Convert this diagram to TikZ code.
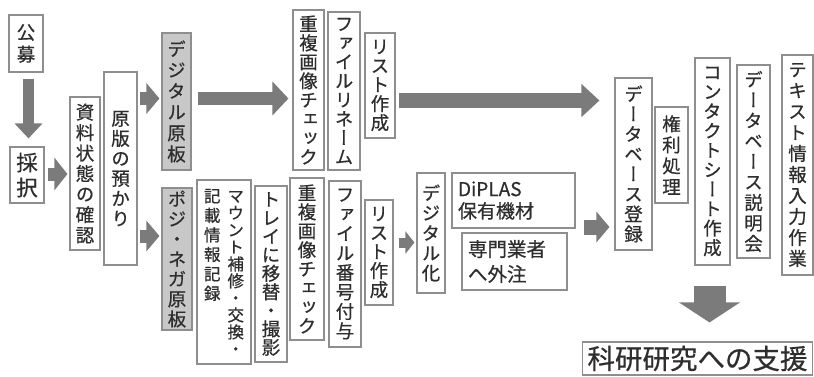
\documentclass[tikz,border=0pt]{standalone}
\usepackage{fontspec}
\usetikzlibrary{arrows.meta,calc}
\newfontfamily\jp[FakeBold=0.6]{Noto Sans CJK JP}
\newfontfamily\jpv[RawFeature={+vert},FakeBold=0.6]{Noto Sans CJK JP}
\definecolor{arrgray}{HTML}{7B7B7B}
\definecolor{linegray}{HTML}{8E8E8E}
\definecolor{fillgray}{HTML}{C8C8C8}
\definecolor{txt}{HTML}{2E2E2E}

\ExplSyntaxOn
\NewDocumentCommand\vtxt{O{20}m}{
  \vtop{\baselineskip=#1pt \lineskiplimit=-100pt \lineskip=0pt
    \tl_map_inline:nn {#2} {\hbox~to~1em{\hss ##1\hss}}}
}
\ExplSyntaxOff

\begin{document}
\begin{tikzpicture}[x=1pt,y=-1pt,
  box/.style={draw=linegray, line width=1.1pt, fill=white, inner sep=0pt, text=txt,
    font=\jpv\fontsize{18.5}{21}\selectfont},
  gbox/.style={box, fill=fillgray},
  wh/.style 2 args={minimum width=#1, minimum height=#2},
  arr/.style={draw=arrgray, line width=13pt, -{Triangle[length=13pt,width=30pt]}},
]
\useasboundingbox (0,0) rectangle (814,376);

% boxes
\node[box, wh={34}{57}] (komo) at (26,43.5) {\vtxt[22]{公募}};
\node[box, wh={34}{56}, font=\jpv\fontsize{21.5}{24}\selectfont] (saitaku) at (27,175) {\vtxt[25]{採択}};
\node[box, wh={30}{153}] (shiryo) at (85,173.5) {\vtxt[20.5]{資料状態の確認}};
\node[box, wh={33}{193}] (genban) at (120.5,168.5) {\vtxt[20]{原版の預かり}};
\node[gbox, wh={29}{137}] (digital) at (176.5,101.5) {\vtxt[21]{デジタル原板}};
\node[gbox, wh={30}{142}] (posi) at (177,259) {\vtxt[20]{ポジ・ネガ原板}};
\node[box, wh={54}{184}, font=\jpv\fontsize{16.5}{18}\selectfont] (mount) at (224,272)
  {\vtxt[19.5]{記載情報記録}\hspace{7pt}\vtxt[17]{マウント補修・交換・}};
\node[box, wh={32}{176}] (tray) at (271,274) {\vtxt[18.5]{トレイに移替・撮影}};
\node[box, wh={31}{160}] (dupA) at (308.5,90) {\vtxt[19]{重複画像チェック}};
\node[box, wh={32}{158}] (rename) at (344,91) {\vtxt[19]{ファイルリネーム}};
\node[box, wh={30}{105}] (listA) at (380,85.5) {\vtxt[19]{リスト作成}};
\node[box, wh={34}{162}] (dupB) at (307,259) {\vtxt[19]{重複画像チェック}};
\node[box, wh={32}{166}] (fileno) at (345,264) {\vtxt[19.5]{ファイル番号付与}};
\node[box, wh={28}{105}] (listB) at (379,252.5) {\vtxt[19]{リスト作成}};
\node[box, wh={28}{120}] (digitize) at (431,233) {\vtxt[20]{デジタル化}};
\node[box, minimum height=55, text width=111pt, inner xsep=6pt, align=left,
  font=\jp\fontsize{19}{22}\selectfont] (diplas) at (513.5,200.5) {DiPLAS\\保有機材};
\node[box, minimum height=57, text width=93pt, inner xsep=6pt, align=left,
  font=\jp\fontsize{19.5}{25}\selectfont] (gaichu) at (514.5,261.5) {専門業者\\へ外注};
\node[box, wh={37}{172}] (dbreg) at (633.5,164) {\vtxt[20]{データベース登録}};
\node[box, wh={33}{96}] (kenri) at (671.5,155) {\vtxt[21]{権利処理}};
\node[box, wh={35}{207}] (contact) at (712.5,161.5) {\vtxt[19.5]{コンタクトシート作成}};
\node[box, wh={33}{193}] (dbsetsu) at (753.5,161.5) {\vtxt[20.5]{データベース説明会}};
\node[box, wh={31}{220}] (textin) at (797.5,165) {\vtxt[21]{テキスト情報入力作業}};
\node[box, wh={230}{33}, font=\jp\fontsize{27.5}{30}\selectfont] (kaken) at (697.5,358.5) {科研研究への支援};

% arrows
\draw[arr, line width=11pt, -{Triangle[length=15pt,width=27pt]}]
  ($(komo.south)+(2.5,6)$) coordinate (a1) -- ($(a1 |- saitaku.north)+(0,-8)$);
\draw[arr, -{Triangle[length=13pt,width=32pt]}]
  ($(saitaku.east)+(3,-1)$) coordinate (a2) -- ($(a2 -| shiryo.west)+(-2,0)$);
\draw[arr] ($(genban.east |- digital.west)+(2,-3)$) coordinate (a3) -- ($(a3 -| digital.west)+(-2,0)$);
\draw[arr] ($(genban.east |- posi.west)+(2,-23)$) coordinate (a4) -- ($(a4 -| posi.west)+(-2,0)$);
\draw[arr, -{Triangle[length=16pt,width=33pt]}]
  ($(digital.east)+(6,-3)$) coordinate (a5) -- ($(a5 -| dupA.west)+(-4,0)$);
\draw[arr, line width=15pt, -{Triangle[length=18pt,width=32pt]}]
  ($(listA.east)+(3,15)$) coordinate (a6) -- ($(a6 -| dbreg.west)+(-15,0)$);
\draw[arr, line width=10pt, -{Triangle[length=9pt,width=22pt]}]
  ($(listB.east)+(5,-10)$) coordinate (a7) -- ($(a7 -| digitize.west)+(-2,0)$);
\draw[arr, line width=15pt, -{Triangle[length=13pt,width=30pt]}]
  ($(diplas.east)+(8,26.5)$) coordinate (a8) -- ($(a8 -| dbreg.west)+(-5,0)$);
\draw[arr, line width=32pt, -{Triangle[length=20pt,width=60pt]}]
  ($(contact.south)+(-3,20)$) coordinate (a9) -- ($(a9 |- kaken.north)+(0,-19)$);
\end{tikzpicture}
\end{document}
